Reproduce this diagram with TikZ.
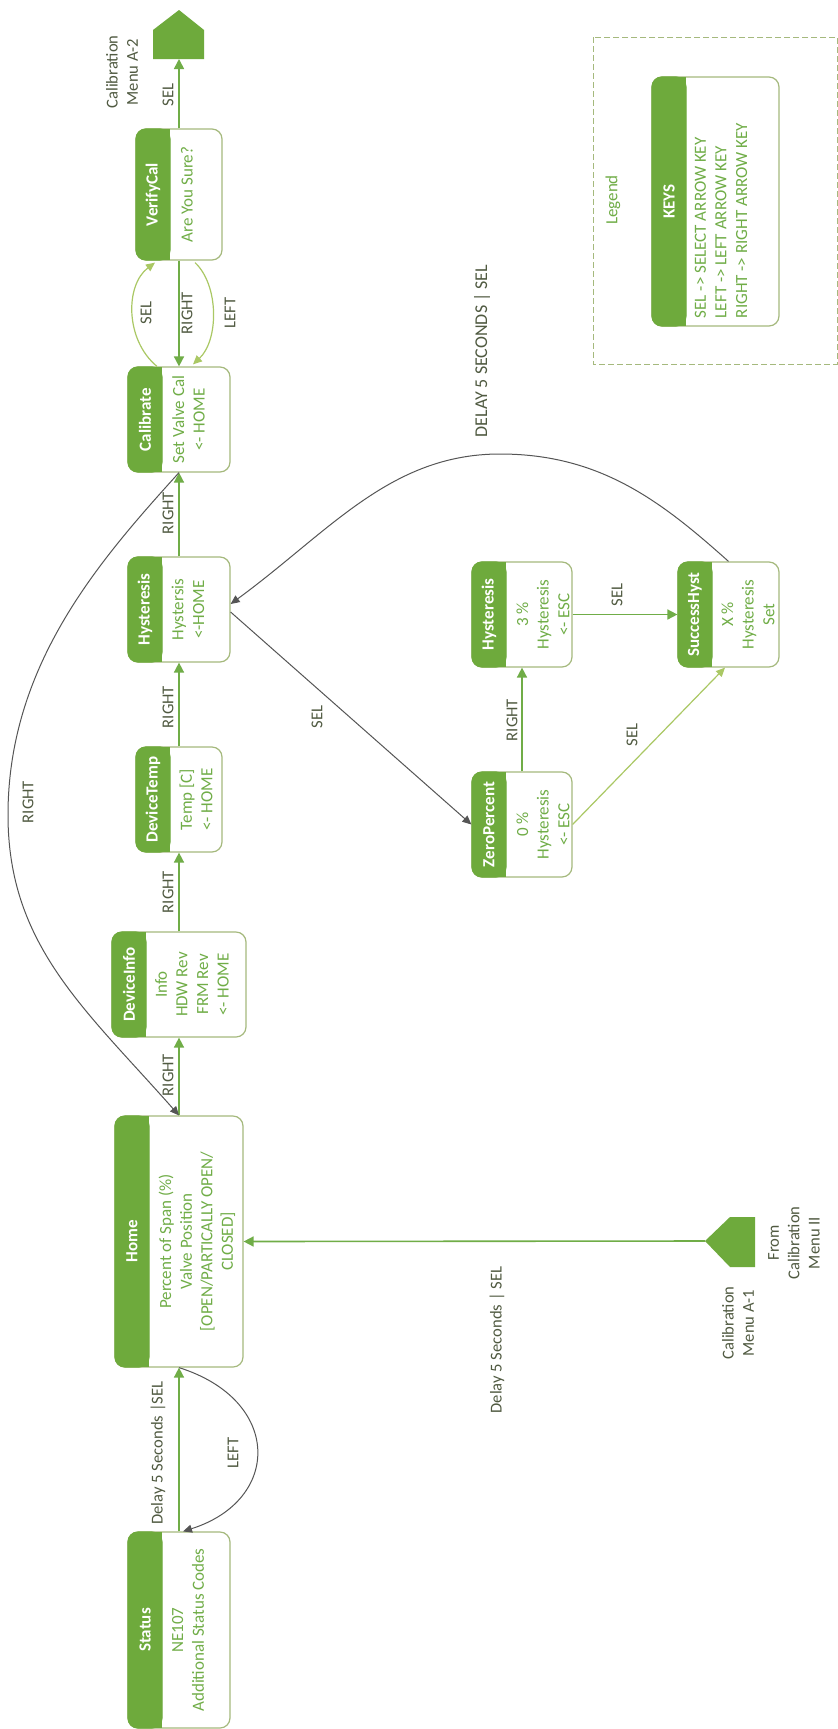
\documentclass[tikz,border=0pt]{standalone}
\usepackage{fontspec}
\setmainfont{Carlito}
\usetikzlibrary{calc,arrows.meta}
\definecolor{hdr}{RGB}{110,170,60}
\definecolor{bdr}{RGB}{165,185,125}
\definecolor{txtg}{RGB}{112,173,71}
\definecolor{labc}{RGB}{80,90,65}
\definecolor{lng}{RGB}{112,173,71}
\definecolor{dkc}{RGB}{85,85,85}
\definecolor{ltg}{RGB}{170,200,100}
\tikzset{
  boxst/.style={draw=bdr, fill=white, rounded corners=5pt, line width=0.6pt, inner sep=0pt, rectangle},
  hdrbox/.style={fill=hdr, draw=hdr, line width=0.6pt, rounded corners=5pt, minimum height=17pt, inner sep=0pt, rectangle},
  hdrsq/.style={fill=hdr, minimum height=8pt, inner sep=0pt, rectangle},
  hdrtext/.style={text=white, font=\fontsize{8.5}{10.3}\selectfont\bfseries, inner sep=0pt},
  bodytext/.style={text=txtg, font=\fontsize{8.5}{10.3}\selectfont, align=center, inner sep=0pt},
  labt/.style={text=labc, font=\fontsize{8.3}{10.2}\selectfont, inner sep=0pt, align=center},
  gline/.style={draw=lng, line width=0.8pt, -{Triangle[length=5pt,width=5pt]}},
  dline/.style={draw=dkc, line width=0.5pt, -{Triangle[length=4.5pt,width=4pt]}},
  lline/.style={draw=ltg, line width=0.6pt, -{Triangle[length=4.5pt,width=4pt]}},
}
\newcommand\statebox[8]{%
  \node[boxst, minimum width=#4, minimum height=#5] (#1) at (#2,#3) {};
  \node[hdrbox, minimum width=#4, anchor=north] (#1-hb) at (#1.north) {};
  \node[hdrsq, minimum width=#4, anchor=south] (#1-hs) at (#1-hb.south) {};
  \node[hdrtext] (#1-h) at (#1-hb.center) {#6};
  \node[bodytext] (#1-b) at ($(#1.center)+(0,#8)$) {#7};
}
\begin{document}
\begin{tikzpicture}[x=0.5pt,y=0.5pt]
\useasboundingbox (0,0) rectangle (838,-1729);
\fill[white] (0,0) rectangle (838,-1729);
\begin{scope}[rotate=90, transform shape]
% legend
\node[draw=bdr, dashed, dash pattern=on 3pt off 1.5pt, line width=0.5pt, minimum width=163.5pt, minimum height=122pt, inner sep=0pt] (legend) at (-200.5,-715) {};
\node[bodytext] (legendt) at (-200,-613) {Legend};
\node[boxst, minimum width=124.5pt, minimum height=63.5pt] (keys) at (-201.5,-715.5) {};
\node[hdrbox, minimum width=124.5pt, anchor=north] (keys-hb) at (keys.north) {};
\node[hdrsq, minimum width=124.5pt, anchor=south] (keys-hs) at (keys-hb.south) {};
\node[hdrtext] (keys-h) at (keys-hb.center) {KEYS};
\node[bodytext, align=left, anchor=west] (keys-b) at ($(keys.west)+(8,-5.5)$) {SEL -> SELECT ARROW KEY\\LEFT -> LEFT ARROW KEY\\RIGHT -> RIGHT ARROW KEY};

% states
\statebox{status}{-1630}{-179}{98pt}{51pt}{Status}{NE107\\Additional Status Codes}{-9}
\statebox{home}{-1241.5}{-179}{125.5pt}{64pt}{Home}{Percent of Span (\%)\\Valve Position\\{[}OPEN/PARTICALLY OPEN/\\CLOSED{]}}{-18}
\statebox{devinfo}{-984.5}{-179}{52.5pt}{67pt}{DeviceInfo}{Info\\HDW Rev\\FRM Rev\\<- HOME}{-13}
\statebox{devtemp}{-799.5}{-179}{52.5pt}{43pt}{DeviceTemp}{Temp [C]\\<- HOME}{-17}
\statebox{hyst}{-609.5}{-179}{52.5pt}{51pt}{Hysteresis}{Hystersis\\<-HOME}{-9}
\statebox{calib}{-419.5}{-179}{52.5pt}{51pt}{Calibrate}{Set Valve Cal\\<- HOME}{-9.5}
\statebox{verify}{-194.5}{-179}{65.5pt}{43pt}{VerifyCal}{Are You Sure?}{-8}
\statebox{zero}{-824.5}{-522}{52.5pt}{50pt}{ZeroPercent}{0 \%\\Hysteresis\\<- ESC}{-21}
\statebox{hysttwo}{-614.5}{-522}{52.5pt}{50pt}{Hysteresis}{3 \%\\Hysteresis\\<- ESC}{-21}
\statebox{success}{-614.5}{-728.5}{52.5pt}{50.5pt}{SuccessHyst}{X \%\\Hysteresis\\Set}{-19.5}

% off-page connectors
\fill[hdr] (-59,-153) -- (-59,-204) -- (-30,-204) -- (-10,-179) -- (-30,-153) -- cycle;
\coordinate (pentA) at (-59,-179);
\node[labt] (pentAt) at (-72,-122) {Calibration\\Menu A-2};
\fill[hdr] (-1241,-705) -- (-1217,-730) -- (-1217,-755) -- (-1267,-755) -- (-1267,-730) -- cycle;
\coordinate (pentB) at (-1241,-705);
\node[labt] (pentBt) at (-1243,-794) {From\\Calibration\\Menu II};
\node[labt] (pentBt2) at (-1323,-738) {Calibration\\Menu A-1};

% connectors
\draw[gline] (status.east) -- (home.west);
\node[labt] (l1) at (-1453,-158) {Delay 5 Seconds |SEL};
\draw[dline] (home.west) .. controls (-1400,-282) and (-1500,-282) .. ($(status.east)+(0,-4)$);
\node[labt] (l2) at (-1453,-233) {LEFT};
\draw[gline] (home.east) -- (devinfo.west);
\node[labt] (l3) at (-1075,-168) {RIGHT};
\draw[gline] (devinfo.east) -- (devtemp.west);
\node[labt] (l4) at (-892,-168) {RIGHT};
\draw[gline] (devtemp.east) -- (hyst.west);
\node[labt] (l5) at (-707,-168) {RIGHT};
\draw[gline] (hyst.east) -- (calib.west);
\node[labt] (l6) at (-513,-168) {RIGHT};
\draw[dline] (calib.west) .. controls (-561,-99) and (-665,-8) .. (-815,-8) .. controls (-945,-8) and (-1009,-85) .. (home.east);
\node[labt] (l7) at (-802,-28) {RIGHT};
\draw[gline] (verify.west) -- (calib.east);
\node[labt] (l8) at (-313,-187) {RIGHT};
\draw[lline] ($(calib.east)+(0,22)$) .. controls (-340,-125) and (-285,-125) .. ($(verify.west)+(-2,24)$);
\node[labt] (l9) at (-313,-146) {SEL};
\draw[lline] ($(verify.west)+(-2,-16)$) .. controls (-285,-219) and (-340,-219) .. ($(calib.east)+(2,-14)$);
\node[labt] (l10) at (-313,-230) {LEFT};
\draw[gline] (verify.east) -- (pentA);
\node[labt] (l11) at (-95,-168) {SEL};
\draw[dline] ($(hyst.south)+(-2.5,0)$) -- (zero.north);
\node[labt] (l12) at (-717,-317) {SEL};
\draw[gline] (zero.east) -- (hysttwo.west);
\node[labt] (l13) at (-720,-512) {RIGHT};
\draw[gline] (hysttwo.south) -- (success.north);
\node[labt] (l14) at (-595,-617) {SEL};
\draw[lline] (zero.south) -- ($(success.west)+(0,3.5)$);
\node[labt] (l15) at (-735,-632) {SEL};
\draw[dline] (success.east) .. controls (-501,-661) and (-454,-600) .. (-454,-500) .. controls (-454,-390) and (-532,-329) .. ($(hyst.south)+(5.5,0)$);
\node[labt, font=\fontsize{9}{11}\selectfont] (l16) at (-351,-482) {DELAY 5 SECONDS | SEL};
\draw[gline] (pentB) -- (home.south);
\node[labt] (l17) at (-1340,-497) {Delay 5 Seconds | SEL};
\end{scope}
\end{tikzpicture}
\end{document}
